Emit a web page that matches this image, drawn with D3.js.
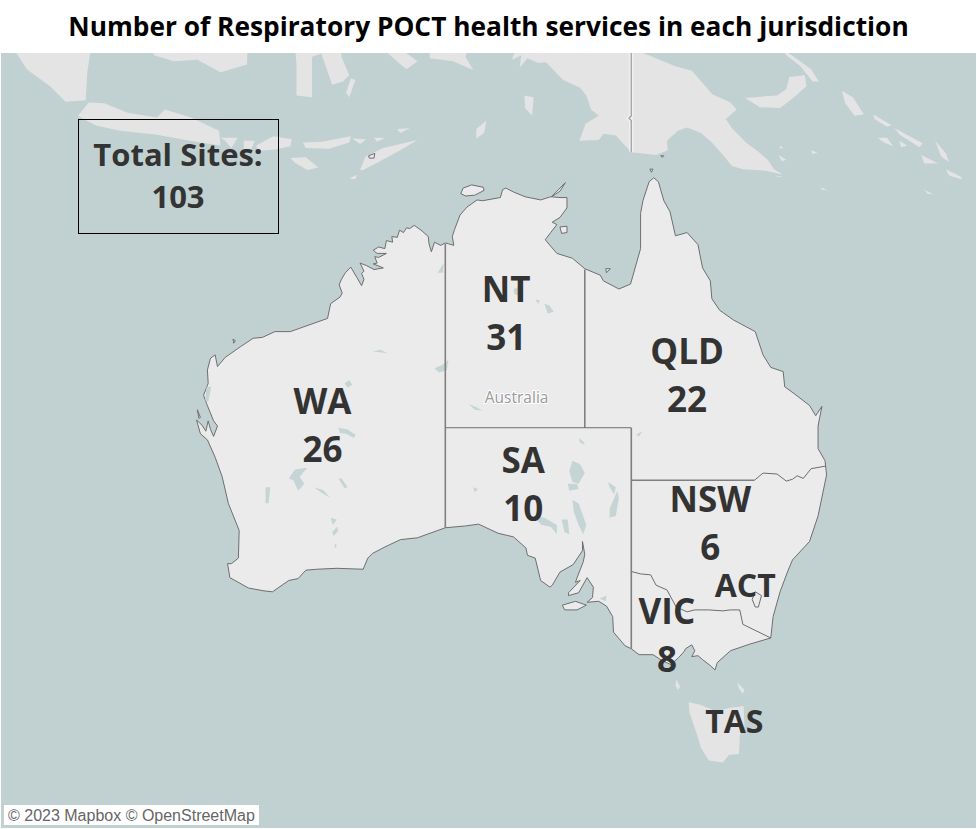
<!DOCTYPE html>
<html>
<head>
<meta charset="utf-8">
<script src="https://cdn.jsdelivr.net/npm/d3@7"></script>
<style>
  html, body { margin: 0; background: #fff; }
</style>
</head>
<body>
<div id="container"></div>
<script>
const chartTitle = "Number of Respiratory POCT health services in each jurisdiction";
const totalLabel = "Total Sites:";
const totalSites = 103;
const creditText = "© 2023 Mapbox © OpenStreetMap";

const jurisdictions = ["WA", "NT", "QLD", "SA", "NSW", "VIC", "ACT", "TAS"];
const siteCounts = [26, 31, 22, 10, 6, 8, null, null];
const labelLonLat = [[121.07, -25.2], [132.93, -18.5], [144.6, -22.25], [134.03, -28.6],
  [146.1, -30.8], [143.3, -36.8], [148.35, -35.35], [147.65, -42.2]];
const countryName = ["Australia"];
const countryLonLat = [[133.6, -24.55]];

// [lon, lat]
const mainland = [
  [129, -14.85], [128.7, -15], [128.3, -14.8], [128.1, -15.4], [127.95, -14.9], [127.9, -14.45], [127.5, -14.1], [127, -13.75], [126.7, -13.95], [126.5, -13.9],
  [126.3, -14.2], [126.05, -14.05], [125.9, -14.5], [125.55, -14.45], [125.6, -14.8], [125.2, -14.7], [125.1, -15.2], [124.7, -15.1], [124.35, -15.3], [124.6, -15.5], [125.2, -15.5],
  [124.7, -15.75], [124.45, -15.7], [124.6, -16.1], [124.35, -16.15], [125, -16.4], [124.4, -16.5], [123.9, -16.25], [123.5, -16.1], [123.75, -16.6], [123.6, -16.75], [123.75, -17.1], [123.6, -17.5],
  [123.3, -17], [122.9, -16.35], [122.55, -16.7], [122.3, -17.1], [122.15, -17.45], [122.35, -17.95], [122.2, -18.2], [121.6, -18.6], [121.4, -19.5], [120.2, -19.9], [119, -20.3], [118, -20.3], [117.2, -20.65],
  [116.6, -20.7], [115.8, -21.2], [114.8, -21.85], [114.3, -22.4], [114.15, -21.7], [113.85, -21.9], [113.65, -22.6],
  [113.7, -23.4], [113.4, -24.1], [113.6, -24.6], [114.05, -25.6], [114.3, -25.9], [114.05, -26.5], [113.85, -26.1], [113.7, -25.6], [113.55, -26.2], [113.3, -25.85], [112.95, -25.55],
  [113.2, -26.35], [113.65, -26.7], [114.15, -27.7],
  [114.6, -28.8], [115, -30.3], [115.7, -31.8], [115.65, -33.3], [115.2, -33.6], [114.95, -33.6], [115.1, -34.35],
  [116.3, -34.9], [117.3, -35.05], [117.85, -35.1], [118.9, -34.5], [119.5, -34.4], [120, -33.95], [120.7, -33.9], [122, -33.85],
  [123.7, -33.9], [124, -33.3], [124.3, -33.05], [125.1, -32.7], [126.1, -32.3], [127.2, -32.2], [129, -31.65], [130.3, -31.55],
  [131.15, -31.45], [132.4, -31.95], [133.4, -32.15], [134.2, -32.75], [134.3, -33.15], [134.8, -33.3], [135.15, -34.5], [135.75, -34.85],
  [135.9, -34.75], [136.4, -34.05], [137.25, -33.65], [137.85, -32.9], [137.85, -32.4], [138, -33.1], [137.9, -33.5], [137.5, -34.35],
  [137.4, -34.6], [137.7, -34.5], [136.95, -35.15], [136.95, -35.3], [137.6, -35.15], [138.15, -34.35], [138.55, -34.85], [138.5, -35.4], [138.15, -35.65],
  [138.9, -35.6], [139.4, -35.85], [139.8, -36.4], [139.85, -37.2], [140.6, -37.9], [141, -38.05], [141.5, -38.35], [142.4, -38.35],
  [143, -38.65], [143.55, -38.85], [144.05, -38.5], [144.4, -38.2], [144.5, -38.05], [144.9, -37.85], [145.1, -38.15], [144.9, -38.45],
  [145.3, -38.4], [145.6, -38.6], [146.1, -38.9], [146.4, -39.12], [146.55, -38.75], [147.4, -38.15], [148.7, -37.8],
  [150, -37.5], [150.15, -36.4], [150.6, -35.1], [151.1, -34.0], [151.4, -33.4], [152.5, -32.4], [153.05, -31], [153.6, -28.7],
  [153.5, -27.9], [153.05, -27.2], [153.05, -25.9], [153.3, -24.75], [152.9, -25.3], [152.5, -24.7], [151.5, -24], [150.9, -23.6], [150.8, -22.7],
  [150, -22.45], [149.5, -21.7], [149, -20.3], [147.6, -19.6], [146.7, -19], [146.2, -18.3], [146.1, -17.2], [145.6, -16.4],
  [145.3, -14.95], [144.6, -14.2], [143.85, -14.4], [143.5, -12.9], [143.1, -12.2], [142.75, -11], [142.45, -10.75], [142.15, -11],
  [141.75, -12.2], [141.6, -13], [141.6, -15.2], [140.95, -17.4], [140.2, -17.7], [139.2, -17.2], [139, -16.85], [138, -16.45], [137.2, -15.8], [136.2, -15.5],
  [135.45, -14.65], [135.8, -14.2], [136.2, -13.7], [135.9, -13.55], [136.4, -13.25], [136.85, -12.65], [136.85, -12], [136.4, -12], [135.8, -11.95], [135.15, -12.15],
  [134.15, -11.95], [133.4, -11.65], [132.9, -11.4], [132.7, -11.5], [132.55, -12], [131.4, -12.2], [131.05, -12.15], [130.4, -12.6], [129.95, -13.1], [129.6, -14], [129.45, -14.45], [129.55, -15], [129.2, -14.9]
];
const outlinedIslands = [
  [[130, -11.75], [130.15, -11.4], [130.7, -11.2], [131.45, -11.35], [131.5, -11.55], [130.9, -11.85], [130.3, -11.9]],
  [[136.4, -13.85], [136.85, -13.8], [136.85, -14.2], [136.5, -14.25]],
  [[139.35, -16.45], [139.65, -16.45], [139.4, -16.7]],
  [[136.55, -35.8], [137.4, -35.6], [138.1, -35.8], [137.5, -36.05], [136.7, -36.05]],
  [[113, -24.95], [113.2, -25.4], [113.1, -25.45]],
  [[115.3, -20.75], [115.45, -20.85], [115.35, -21]],
  [[142.2, -10.2], [142.4, -10.2], [142.3, -10.4]],
  [[142.9, -9.35], [143.1, -9.35], [143, -9.45]],
  [[136.75, -11.05], [135.85, -11.95], [136.4, -11.6]],
  [[124.05, -9.35], [124.45, -9.2], [124.4, -9.5], [124.1, -9.5]]
];
const otherLand = [
  // Sumatra
  [[100.5, -1.5], [102, -3.8], [103.5, -4.9], [104.5, -5.9], [105.8, -5.8], [105.9, -4], [106.2, -2], [100.5, -1]],
  // Java
  [[105.3, -6.8], [106, -5.95], [107, -6], [108.5, -6.6], [110.4, -6.9], [110.9, -6.4], [112.6, -6.9], [114.4, -7.75], [114.5, -8.7],
    [112.5, -8.4], [110.3, -8], [108, -7.75], [106.4, -7.4]],
  [[114.5, -8.2], [115.6, -8.2], [115.2, -8.85], [114.8, -8.4]],
  [[116, -8.4], [116.7, -8.4], [116.5, -8.9], [116, -8.9]],
  [[116.8, -8.7], [117.9, -8.1], [119.1, -8.3], [119, -8.75], [118, -8.95], [116.9, -9.05]],
  [[119.8, -8.5], [121, -8.45], [122.9, -8.1], [122.8, -8.5], [121.5, -8.9], [120, -8.85]],
  [[119, -9.5], [120, -9.45], [120.8, -10.1], [120.1, -10.25], [119.3, -9.8]],
  [[123.5, -10.25], [123.85, -9.4], [125, -8.85], [127.2, -8.35], [126.1, -9], [124.6, -9.8], [123.7, -10.25]],
  [[122.8, -10.8], [123.3, -10.55], [123.2, -10.85]],
  [[123, -8.25], [123.9, -8.3], [123.5, -8.6]],
  [[124.4, -8.2], [125.1, -8.2], [124.6, -8.45]],
  [[125.9, -7.65], [126.7, -7.6], [126.1, -7.9]],
  // Kalimantan, Sulawesi and the Moluccas, cut by the top edge
  [[109.8, -1], [110.2, -2.9], [111.5, -3.3], [113, -3.2], [114.5, -4], [116.2, -3.5], [116.3, -1]],
  [[119.2, -1], [119.4, -3.5], [119.4, -5.5], [120.4, -5.6], [120.4, -3], [121, -2.8], [121.7, -4.8], [122.4, -4.6], [122.8, -4.2], [122.3, -3],
    [122.2, -1]],
  [[122.9, -4.4], [123.2, -4.5], [122.8, -5.6], [122.6, -5.3]],
  [[124.4, -2], [126, -2.4], [127.2, -3.3], [126.5, -3.8], [126, -3.4], [125, -2.5]],
  [[127.9, -1], [128, -3.1], [129.5, -3.3], [130.8, -3.85], [130.3, -3], [131, -1]],
  [[131, -7.65], [131.65, -7.1], [131.5, -7.9], [131, -8.25]],
  [[134.1, -5.5], [134.7, -5.6], [134.6, -6.8], [134.15, -6.3]],
  // New Guinea
  [[131, -1], [132.3, -2.7], [133.5, -2.6], [133.3, -3.2], [133.9, -2.9], [133.8, -3.7], [134.3, -3.1], [135, -3.4],
    [135.5, -3.35], [136.6, -4.5], [137.7, -5], [138.1, -5.5], [138.4, -6.4], [138.9, -6.8], [138.05, -7.3], [137.65, -8.4], [138.9, -8.35],
    [139.2, -7.95], [140, -8.05], [141, -9.12], [142.6, -9.3], [143.35, -9], [143.3, -8.4], [144, -7.75], [144.6, -7.55], [145.5, -7.9],
    [146.2, -8.5], [147, -9.4], [147.5, -10], [148.2, -10.2], [149.7, -10.3], [150.8, -10.55], [150.2, -10.2], [149.8, -9.6], [149.2, -9.1],
    [148.4, -8.5], [147.5, -7.6], [147.1, -7], [147.8, -6.4], [147.4, -5.95], [146.2, -5.4], [145.7, -4.8], [144.9, -3.9], [143.8, -3.6], [141.5, -2.65], [141, -1]],
  // New Britain, New Ireland
  [[148.35, -5.65], [149.6, -5.55], [150.4, -5.5], [151, -5.1], [151.2, -4.3], [152.2, -4.2], [152.3, -4.9], [151.5, -5.6], [150.6, -6.3], [149.3, -6.25]],
  [[150.7, -2.5], [151.5, -3], [152.6, -3.8], [153.1, -4.6], [152.7, -4.6], [151.9, -3.6], [151, -2.9]],
  [[147, -2], [147.7, -2], [147.4, -2.15]],
  [[154.6, -5.2], [155.3, -5.6], [156, -6.7], [155.4, -6.8], [154.8, -6]],
  [[156.6, -6.7], [157.8, -7.4], [157.5, -7.5], [156.7, -7]],
  [[158, -7.6], [159.8, -8.55], [159.6, -8.8], [158.3, -8]],
  [[156.9, -8.2], [157.5, -8.2], [157.9, -8.75], [157.3, -8.5]],
  [[158.3, -8.4], [158.8, -8.7], [158.4, -8.8]],
  [[159.7, -9.3], [160.8, -9.85], [159.9, -9.85]],
  [[160.6, -8.4], [161.3, -9.2], [161.5, -9.75], [161, -9.4]],
  [[161.3, -10.2], [162.3, -10.7], [162.3, -10.85], [161.5, -10.6]],
  [[150.5, -9.3], [151, -9.6], [150.7, -9.7]],
  [[152.6, -9], [153, -9.15], [152.7, -9.25]],
  [[150.6, -8.7], [150.8, -8.85], [150.6, -8.9]],
  [[153.2, -11.35], [153.7, -11.55], [153.3, -11.5]],
  [[150.3, -10.6], [150.8, -10.7], [150.5, -10.7]],
  [[159.9, -11.5], [160.5, -11.8], [160.1, -11.75]],
  [[130.7, -1], [131.1, -1.3], [130.9, -1.5]],
  // Tasmania, King and Flinders Islands
  [[144.7, -40.7], [145.5, -40.85], [146.5, -41.15], [147.3, -41], [148.25, -40.9], [148.3, -41.9], [148, -42.3], [147.95, -43.2], [147.3, -43.25],
    [146.9, -43.6], [146, -43.5], [145.5, -42.9], [145.2, -42.2], [144.75, -41.2]],
  [[143.9, -39.6], [144.15, -39.95], [144, -40.1], [143.85, -39.9]],
  [[147.85, -39.75], [148.3, -40.1], [148.2, -40.3], [147.95, -40.05]]
];
const lakes = [
  [[137.2, -27.9], [137.7, -28.1], [138, -28.6], [137.6, -29.2], [137.2, -29.1], [137, -28.5]],
  [[136.9, -29.2], [137.5, -29.2], [137.6, -29.5], [137, -29.6]],
  [[137.2, -30.1], [137.6, -30.3], [138.1, -31.5], [137.9, -32], [137.6, -31.5], [137.3, -30.8]],
  [[134.7, -31], [135.4, -31.1], [136.2, -31.5], [136.2, -32], [135.8, -31.6], [135.2, -31.5]],
  [[136.5, -31.2], [136.9, -31.2], [137, -32], [136.7, -31.9]],
  [[140.1, -29.6], [140.2, -30], [140, -31], [139.6, -31.1], [139.6, -30.6]],
  [[139.5, -29.1], [140, -29.4], [139.9, -29.8], [139.6, -29.4]],
  [[130.8, -29.4], [131.1, -29.5], [130.9, -29.7]],
  [[130.5, -24.6], [131, -24.8], [131.4, -25], [130.9, -24.95]],
  [[129.2, -22], [129.1, -22.6], [128.6, -22.75], [128.3, -22.5], [128.8, -22.3]],
  [[128.5, -16.7], [128.9, -16.1], [128.85, -16.7]],
  [[122.5, -23.4], [122.8, -23.2], [123, -23.5], [122.7, -23.65]],
  [[122.1, -26], [122.7, -26.1], [123.2, -26.4], [123.1, -26.6], [122.6, -26.35], [122.2, -26.3]],
  [[124.3, -21.5], [124.8, -21.4], [125.3, -21.6], [124.8, -21.55]],
  [[119.3, -28.4], [120.1, -28.3], [119.6, -28.8], [119.9, -29.2], [119.5, -29.6], [119.2, -29], [118.9, -28.9]],
  [[117.4, -29.4], [117.7, -29.4], [117.6, -30.3], [117.4, -30.3]],
  [[120.5, -29.4], [121.1, -29.55], [121.6, -30], [121.1, -29.75]],
  [[122.1, -28.9], [122.3, -28.9], [122.7, -29.4], [122.5, -29.45]],
  [[121.6, -31.1], [122, -31.2], [121.75, -31.5]],
  [[122, -31.6], [122.1, -31.8], [121.8, -32.1], [121.7, -31.9]],
  [[121.85, -32.5], [122, -32.6], [121.9, -32.8]],
  [[133.4, -17.7], [133.7, -17.6], [133.7, -18.1], [133.45, -18]],
  [[134.8, -18.35], [135.1, -18.4], [135, -18.6]],
  [[135.4, -18.6], [135.7, -18.7], [136, -19.1], [135.6, -19.2]],
  [[141.3, -26.4], [141.7, -26.2], [141.5, -26.5]],
  [[137.6, -26.6], [137.9, -26.8], [138, -27], [137.7, -26.85]],
  [[113.6, -23.6], [113.9, -23.6], [113.7, -24.5], [113.5, -24.4]],
  [[138.95, -35.45], [139.4, -35.3], [139.35, -35.6]]
];
const actBoundary = [[149, -35.1], [149.4, -35.3], [149.2, -35.9], [149, -35.9], [148.8, -35.5]];
const heavyBorders = [
  [[129, -14.9], [129, -31.65]],
  [[138, -16.5], [138, -26]],
  [[141, -26], [141, -38.05]],
  [[141, -29], [148.95, -29]]
];
const borders = [
  [[129, -26], [141, -26]],
  [[148.95, -29], [149.5, -28.6], [150.4, -28.65], [151, -29.05], [151.4, -28.95], [151.7, -28.75], [152.1, -28.9], [152.6, -28.35], [153.55, -28.2]],
  [[141, -34.02], [141.6, -34.15], [142.25, -34.2], [142.6, -34.75], [143.3, -35.0], [143.9, -35.9], [144.6, -36.15], [145.1, -36.05],
    [146, -36.05], [146.9, -36.1], [147.4, -36.05], [148, -36.05], [148.2, -36.8], [150, -37.5]]
];
const dateLine = [[141, -1], [141, -6.8], [140.85, -6.95], [141, -7.1], [141, -9.12]];

const width = 977;
const height = 829;
const mapTop = 53;

const projection = d3.geoMercator().scale(888).translate([-1554, 10.2]);
const ring = d3.line()
  .x((d) => projection(d)[0])
  .y((d) => projection(d)[1]);
const closed = (r) => ring(r) + "Z";

const svg = d3.select("#container")
  .append("svg")
  .attr("width", width)
  .attr("height", height)
  .style("display", "block");

svg.append("clipPath")
  .attr("id", "map-clip")
  .append("rect")
  .attr("x", 1)
  .attr("y", mapTop)
  .attr("width", width - 2)
  .attr("height", height - mapTop - 1);

const map = svg.append("g").attr("clip-path", "url(#map-clip)");

map.append("rect")
  .attr("x", 1)
  .attr("y", mapTop)
  .attr("width", width - 2)
  .attr("height", height - mapTop - 1)
  .attr("fill", "#c1d1d1");

map.selectAll("path.land")
  .data(otherLand)
  .enter()
  .append("path")
  .classed("land", true)
  .attr("d", closed)
  .attr("fill", "#e4e4e4");

map.append("path")
  .attr("d", ring(dateLine))
  .attr("fill", "none")
  .attr("stroke", "#f4f4f4")
  .attr("stroke-width", 4);
map.append("path")
  .attr("d", ring(dateLine))
  .attr("fill", "none")
  .attr("stroke", "#a8a8a8")
  .attr("stroke-width", 1.5);

map.append("path")
  .attr("d", closed(mainland))
  .attr("fill", "#ebebeb")
  .attr("stroke", "#6e6e6e")
  .attr("stroke-width", 1);

map.selectAll("path.island")
  .data(outlinedIslands)
  .enter()
  .append("path")
  .classed("island", true)
  .attr("d", closed)
  .attr("fill", "#ebebeb")
  .attr("stroke", "#6e6e6e")
  .attr("stroke-width", 1);

map.selectAll("path.lake")
  .data(lakes)
  .enter()
  .append("path")
  .classed("lake", true)
  .attr("d", closed)
  .attr("fill", "#c5d5d5");

map.selectAll("path.heavy")
  .data(heavyBorders)
  .enter()
  .append("path")
  .classed("heavy", true)
  .attr("d", ring)
  .attr("fill", "none")
  .attr("stroke", "#7f7f7f")
  .attr("stroke-width", 1.6);

map.selectAll("path.border")
  .data(borders)
  .enter()
  .append("path")
  .classed("border", true)
  .attr("d", ring)
  .attr("fill", "none")
  .attr("stroke", "#6e6e6e")
  .attr("stroke-width", 1);

map.append("path")
  .attr("d", closed(actBoundary))
  .attr("fill", "#ebebeb")
  .attr("stroke", "#6e6e6e")
  .attr("stroke-width", 1);

map.selectAll("text.country")
  .data(countryName)
  .enter()
  .append("text")
  .classed("country", true)
  .attr("x", (d, i) => projection(countryLonLat[i])[0])
  .attr("y", (d, i) => projection(countryLonLat[i])[1])
  .attr("text-anchor", "middle")
  .attr("font-family", "'Open Sans', sans-serif")
  .attr("font-size", 15.5)
  .attr("fill", "#999")
  .attr("stroke", "#fff")
  .attr("stroke-width", 2)
  .attr("paint-order", "stroke")
  .text((d) => d);

const labels = map.selectAll("text.state")
  .data(jurisdictions)
  .enter()
  .append("text")
  .classed("state", true)
  .attr("x", (d, i) => projection(labelLonLat[i])[0])
  .attr("y", (d, i) => projection(labelLonLat[i])[1])
  .attr("text-anchor", "middle")
  .attr("font-family", "'Open Sans', sans-serif")
  .attr("font-weight", 700)
  .attr("fill", "#333");
labels.append("tspan")
  .attr("font-size", (d) => (d === "ACT" || d === "TAS") ? 32 : 35)
  .text((d) => d);
labels.filter((d) => siteCounts[jurisdictions.indexOf(d)] !== null)
  .append("tspan")
  .attr("font-size", 35)
  .attr("x", (d) => projection(labelLonLat[jurisdictions.indexOf(d)])[0])
  .attr("dy", 48)
  .text((d) => siteCounts[jurisdictions.indexOf(d)]);

const box = map.append("g");
box.append("rect")
  .attr("x", 78.5)
  .attr("y", 119.5)
  .attr("width", 200)
  .attr("height", 114)
  .attr("fill", "none")
  .attr("stroke", "#000");
box.append("text")
  .attr("x", 178)
  .attr("y", 166)
  .attr("text-anchor", "middle")
  .attr("font-family", "'Open Sans', sans-serif")
  .attr("font-weight", 700)
  .attr("font-size", 31)
  .attr("fill", "#333")
  .text(totalLabel);
box.append("text")
  .attr("x", 178)
  .attr("y", 208)
  .attr("text-anchor", "middle")
  .attr("font-family", "'Open Sans', sans-serif")
  .attr("font-weight", 700)
  .attr("font-size", 31)
  .attr("fill", "#333")
  .text(totalSites);

map.append("rect")
  .attr("x", 4)
  .attr("y", 805)
  .attr("width", 255)
  .attr("height", 20)
  .attr("fill", "#fff");
map.append("text")
  .attr("x", 8)
  .attr("y", 820.5)
  .attr("font-family", "'Liberation Sans', sans-serif")
  .attr("font-size", 16)
  .attr("fill", "#666")
  .text(creditText);

svg.append("text")
  .attr("x", 488.5)
  .attr("y", 35.5)
  .attr("text-anchor", "middle")
  .attr("font-family", "'Open Sans', sans-serif")
  .attr("font-weight", 700)
  .attr("font-size", 26.3)
  .attr("fill", "#000")
  .text(chartTitle);
</script>
</body>
</html>
